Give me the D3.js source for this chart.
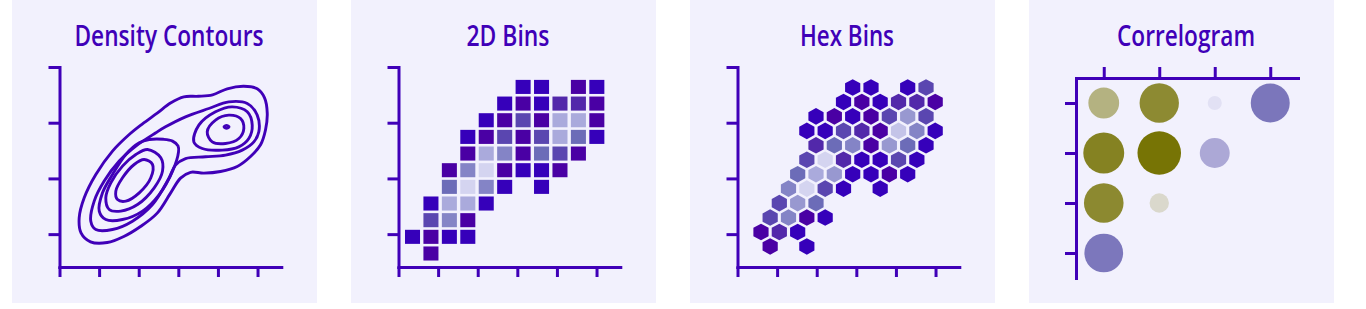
<!DOCTYPE html>
<meta charset="utf-8">
<script src="https://d3js.org/d3.v7.min.js"></script>
<body style="margin:0;background:#fff">
<div id="chart"></div>
</body>
<script>
// ---- data ----
const titles = ["Density Contours", "2D Bins", "Hex Bins", "Correlogram"];
const xTicks = [0, 1, 2, 3, 4, 5];
const yTicks = [1, 2, 3, 4];

// density contour rings, [x, y] in axis units, outer level first
const contourRings = [
  [[1.76,2.788],[2.096,2.98],[2.467,3.172],[2.803,3.352],[3.139,3.465],[3.51,3.474],[3.864,3.501],[4.235,3.609],[4.654,3.654],[4.992,3.609],[5.177,3.447],[5.245,3.172],[5.202,2.873],[5.076,2.603],[4.823,2.393],[4.487,2.214],[4.066,2.124],[3.644,2.095],[3.308,2.11],[3.056,2.005],[2.803,1.736],[2.467,1.377],[2.045,1.136],[1.624,0.957],[1.205,0.849],[0.783,0.862],[0.543,1.023],[0.497,1.293],[0.624,1.652],[0.917,2.07],[1.338,2.49]],
  [[1.129,1.952],[1.508,2.311],[1.927,2.58],[2.432,2.819],[2.677,2.926],[3.182,3.106],[3.77,3.255],[4.275,3.375],[4.74,3.345],[4.992,3.136],[5.033,2.837],[4.907,2.657],[4.614,2.508],[4.192,2.418],[3.687,2.388],[3.182,2.357],[2.929,2.239],[2.76,1.998],[2.348,1.531],[1.843,1.233],[1.338,1.083],[0.917,1.083],[0.79,1.233],[0.876,1.592]],
  [[2.013,2.639],[2.265,2.698],[2.626,2.702],[2.854,2.67],[2.992,2.585],[3.005,2.478],[2.854,2.131],[2.518,1.711],[2.096,1.413],[1.591,1.262],[1.169,1.262],[1.003,1.413],[1.086,1.741],[1.338,2.07],[1.674,2.429]],
  [[3.391,2.657],[3.518,2.957],[3.939,3.196],[4.361,3.285],[4.74,3.196],[4.866,2.957],[4.78,2.716],[4.528,2.567],[4.109,2.508],[3.604,2.537]],
  [[1.927,2.429],[2.222,2.519],[2.558,2.37],[2.601,2.131],[2.391,1.831],[1.97,1.531],[1.548,1.413],[1.255,1.442],[1.169,1.652],[1.295,1.921],[1.591,2.221]],
  [[3.73,2.837],[3.939,3.047],[4.275,3.136],[4.571,3.075],[4.654,2.896],[4.528,2.716],[4.192,2.627],[3.856,2.657]],
  [[1.886,2.25],[2.139,2.339],[2.348,2.25],[2.306,2.011],[2.013,1.741],[1.674,1.592],[1.465,1.621],[1.422,1.772],[1.591,2.011]],
  [[4.154,2.926],[4.217,2.953],[4.28,2.926],[4.217,2.899]]
];

// 2D bin counts, top row first, 11 x 11
const binCounts = [
  [0,0,0,0,0,0,1,1,0,2,1],
  [0,0,0,0,0,1,2,1,3,3,2],
  [0,0,0,0,1,2,4,2,8,8,2],
  [0,0,0,1,2,4,2,4,8,5,1],
  [0,0,0,2,8,6,2,5,4,2,0],
  [0,0,2,6,10,2,1,1,2,0,0],
  [0,0,5,10,6,1,0,1,0,0,0],
  [0,1,8,8,1,0,0,0,0,0,0],
  [0,4,6,2,0,0,0,0,0,0,0],
  [1,2,1,1,0,0,0,0,0,0,0],
  [0,2,0,0,0,0,0,0,0,0,0]
];

// hex bins, top row first, [column, count]; odd rows sit half a column right
const hexRows = [
  [[5,1],[6,1],[8,1],[9,4]],
  [[4,1],[5,2],[6,1],[7,3],[8,3],[9,2]],
  [[3,1],[4,2],[5,1],[6,2],[7,4],[8,7],[9,4]],
  [[2,1],[3,1],[4,4],[5,3],[6,2],[7,9],[8,6],[9,1]],
  [[3,3],[4,5],[5,6],[6,2],[7,7],[8,5],[9,1]],
  [[2,4],[3,10],[4,3],[5,1],[6,1],[7,4],[8,1]],
  [[2,5],[3,8],[4,7],[5,1],[6,1],[7,2],[8,1]],
  [[1,6],[2,10],[3,4],[4,1],[6,1]],
  [[1,4],[2,7],[3,5]],
  [[0,4],[1,6],[2,2],[3,1]],
  [[0,2],[1,3],[2,1]],
  [[0,2],[2,1]]
];

// correlogram, lower-left triangle
const corrVars = ["v1", "v2", "v3", "v4"];
const corrValues = [
  [0.70, 0.895, -0.32, -0.886],
  [0.93, 0.99, -0.68],
  [0.90, 0.44],
  [-0.88]
];

// ---- layout / style ----
const W = 1366, H = 309;
const panelX = [12, 351, 690, 1029], panelW = 305, panelH = 303;
const titleWidths = [189, 83, 94, 138];
const ink = "#4000b8";
const panelBg = "#f2f1fd";

const binGrid = {x0: 0.121, w: 0.4654, y0: 0.503, h: 0.299};
const hexGrid = {x0: 0.593, dx: 0.463, y0: 3.632, dy: 0.2594, hw: 7.6, hr: 8.3};

const countColor = d3.scaleLinear()
  .domain([1, 2, 3, 4, 5, 6, 7, 8, 9, 10])
  .range(["#3600ba", "#4a00a4", "#5228aa", "#5a46b0", "#6c6cb8", "#8484c6", "#9898d0", "#aaaadc", "#c4c4e8", "#d4d4f0"]);

const corrColor = d3.scaleLinear().domain([-1, 0, 1]).range(["#5a54a9", panelBg, "#747100"]);
const corrRadius = d3.scaleLinear().domain([0, 1]).range([0, 22]);

const svg = d3.select("#chart").append("svg")
  .attr("width", W).attr("height", H)
  .style("display", "block");

const x = d3.scaleLinear().domain([0, 5.6]).range([47.5, 269.3]);
const y = d3.scaleLinear().domain([0.41, 4]).range([267, 67]);

const panels = svg.selectAll("g.panel")
  .data(titles)
  .join("g")
    .attr("class", "panel")
    .attr("transform", (d, i) => `translate(${panelX[i]},0)`);

panels.append("rect")
  .attr("width", panelW).attr("height", panelH)
  .attr("fill", panelBg);

panels.append("text")
  .attr("x", 157).attr("y", 46)
  .attr("text-anchor", "middle")
  .attr("textLength", (d, i) => titleWidths[i])
  .attr("lengthAdjust", "spacingAndGlyphs")
  .style("font-family", "'Open Sans', 'Noto Sans', sans-serif")
  .style("font-size", "29px")
  .style("font-weight", 600)
  .style("fill", ink)
  .text(d => d);

function styleAxis(g) {
  g.selectAll("line").attr("stroke", ink).attr("stroke-width", 3);
  g.select(".domain").attr("stroke", ink).attr("stroke-width", 3).attr("stroke-linecap", "square");
}

function xyAxes(g) {
  g.append("g")
    .attr("transform", `translate(0,${y.range()[0]})`)
    .call(d3.axisBottom(x).tickValues(xTicks).tickSize(10).tickSizeOuter(0).tickFormat(""))
    .call(styleAxis);
  g.append("g")
    .attr("transform", `translate(${x(0)},0)`)
    .call(d3.axisLeft(y).tickValues(yTicks).tickSize(11).tickSizeOuter(0).tickFormat(""))
    .call(styleAxis);
}

// ---- Density contours ----
const p1 = panels.filter((d, i) => i === 0);
xyAxes(p1);
const ring = d3.line()
  .x(d => x(d[0])).y(d => y(d[1]))
  .curve(d3.curveCatmullRomClosed.alpha(0.5));
p1.append("g").selectAll("path")
  .data(contourRings)
  .join("path")
    .attr("d", ring)
    .attr("fill", "none")
    .attr("stroke", ink)
    .attr("stroke-width", 2.9);

// ---- 2D bins ----
const p2 = panels.filter((d, i) => i === 1);
xyAxes(p2);
const cells = [];
binCounts.forEach((row, r) => row.forEach((n, c) => {
  if (n > 0) cells.push({r, c, n});
}));
const nBinRows = binCounts.length;
p2.append("g").selectAll("rect")
  .data(cells)
  .join("rect")
    .attr("x", d => x(binGrid.x0 + d.c * binGrid.w) + 1.7)
    .attr("y", d => y(binGrid.y0 + (nBinRows - d.r) * binGrid.h) + 1.3)
    .attr("width", x(binGrid.w) - x(0) - 3.4)
    .attr("height", y(0) - y(binGrid.h) - 2.6)
    .attr("fill", d => countColor(d.n));

// ---- Hex bins ----
const p3 = panels.filter((d, i) => i === 2);
xyAxes(p3);
const hexes = [];
hexRows.forEach((row, r) => row.forEach(([c, n]) => hexes.push({r, c, n})));
const hw = hexGrid.hw, hr = hexGrid.hr;
const hexPath = `M0,${-hr}L${hw},${-hr / 2}L${hw},${hr / 2}L0,${hr}L${-hw},${hr / 2}L${-hw},${-hr / 2}Z`;
p3.append("g").selectAll("path")
  .data(hexes)
  .join("path")
    .attr("transform", d => `translate(${x(hexGrid.x0 + hexGrid.dx * (d.c + (d.r % 2 ? 0.5 : 0)))},${y(hexGrid.y0 - hexGrid.dy * d.r)})`)
    .attr("d", hexPath)
    .attr("fill", d => countColor(d.n));

// ---- Correlogram ----
const p4 = panels.filter((d, i) => i === 3);
const cx = d3.scalePoint().domain(corrVars).range([47, 269]).padding(0.5);
const cy = d3.scalePoint().domain(corrVars).range([78, 278]).padding(0.5);
p4.append("g")
  .attr("transform", "translate(0,78)")
  .call(d3.axisTop(cx).tickSize(11).tickSizeOuter(0).tickFormat(""))
  .call(styleAxis);
p4.append("g")
  .attr("transform", "translate(47,0)")
  .call(d3.axisLeft(cy).tickSize(11).tickSizeOuter(0).tickFormat(""))
  .call(styleAxis);
const corrCells = [];
corrValues.forEach((row, i) => row.forEach((v, j) => corrCells.push({i, j, v})));
p4.append("g").selectAll("circle")
  .data(corrCells)
  .join("circle")
    .attr("cx", d => cx(corrVars[d.j]))
    .attr("cy", d => cy(corrVars[d.i]))
    .attr("r", d => corrRadius(Math.abs(d.v)))
    .attr("fill", d => corrColor(Math.sign(d.v) * d.v * d.v));
</script>
